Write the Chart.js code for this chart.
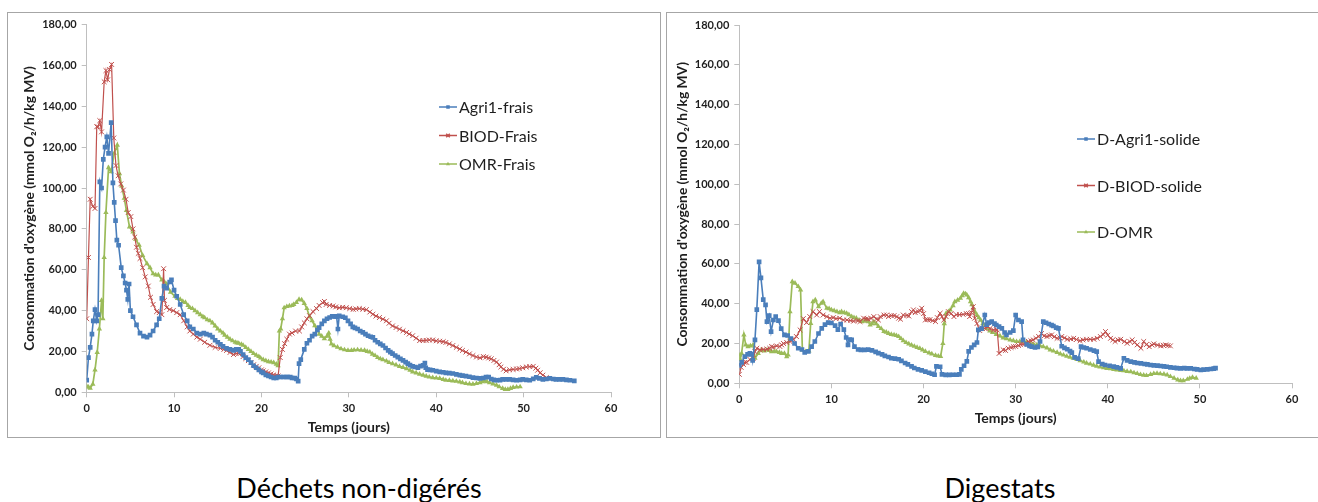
<!DOCTYPE html>
<html>
<head>
<meta charset="utf-8">
<script src="https://cdn.jsdelivr.net/npm/chart.js@4.4.1/dist/chart.umd.min.js"></script>
<style>
  html, body { margin: 0; padding: 0; background: #fff; }
  body { width: 1318px; height: 502px; position: relative; overflow: hidden; }
  .panel { position: absolute; box-sizing: border-box; border: 1px solid #a6a6a6; background: #fff; }
  .panel canvas { position: absolute; left: 0; top: 0; }
  .caption { position: absolute; font-family: Lato, "Open Sans", sans-serif; font-size: 27px; color: #000; white-space: nowrap; transform: translateX(-50%); }
</style>
</head>
<body>
<div class="panel" id="panelA" style="left:7px; top:12px; width:654px; height:426px;"><canvas id="chartA" width="652" height="424"></canvas></div>
<div class="panel" id="panelB" style="left:666px; top:12px; width:660px; height:426px;"><canvas id="chartB" width="652" height="424"></canvas></div>
<div class="caption" style="left:359px; top:471px;">Déchets non-digérés</div>
<div class="caption" style="left:1000px; top:471px;">Digestats</div>
<script>
// ---- Déchets non-digérés : temps (jours) / consommation O2 ----
const agriFraisT = [0,0.2,0.4,0.6,0.75,0.95,1.15,1.3,1.5,1.7,1.9,2.1,2.3,2.5,2.8,3.0,3.15,3.3,3.45,3.65,3.95,4.2,4.4,4.55,4.7,4.85,5.0,5.3,5.7,6.1,6.5,6.9,7.25,7.6,8.0,8.3,8.6,8.85,9.15,9.5,9.7,10.0,10.3,10.7,11.1,11.5,11.8,12.2,12.6,13.0,13.4,13.7,14.1,14.4,14.7,15.0,15.3,15.6,16.0,16.4,16.8,17.1,17.4,17.6,17.9,18.2,18.5,18.8,19.1,19.4,19.7,20.0,20.2,20.5,20.8,21.1,21.4,21.7,21.9,22.2,22.5,22.8,23.0,23.3,23.5,23.8,24.0,24.2,24.3,24.5,24.9,25.2,25.5,25.8,26.1,26.4,26.6,26.9,27.2,27.5,27.8,28.1,28.4,28.6,28.75,28.9,29.3,29.6,29.9,30.2,30.45,30.7,31.0,31.3,31.6,31.9,32.2,32.5,32.75,33.0,33.3,33.6,33.9,34.2,34.5,34.75,35.0,35.3,35.6,35.9,36.2,36.5,36.75,37.0,37.3,37.6,37.9,38.2,38.5,38.7,38.8,39.0,39.3,39.6,40.0,40.4,40.8,41.1,41.5,41.9,42.3,42.7,43.0,43.4,43.8,44.2,44.6,45.0,45.4,45.7,46.0,46.3,46.6,46.9,47.3,47.6,48.0,48.4,48.8,49.2,49.6,49.9,50.3,50.7,51.1,51.45,51.8,52.2,52.6,53.0,53.4,53.7,54.1,54.5,54.9,55.3,55.8];
const agriFraisV = [6,17,22,28.5,35,40.5,35,38,103,100,114,120,125,117,132,102.5,93,84,74.5,72,61,57,53.5,50,45.5,53,40,37,33,29,27.5,27,28,30,33,36,46,52,51,54,55,50,47,43,38,35,32,31,29,28.5,29,28.5,28,27,25.5,24.5,23.5,22.5,21.5,21,20.5,21,21,20,18.5,17,16,14.5,13,12,11,10,9.5,8.5,8,7.5,7,7,7.5,7.5,7.5,7.5,7.5,7.5,7,7,6.5,5.5,14,16,21,24,25.5,27.5,28.5,30.5,31.7,33.5,35,36,36.6,37.2,37.2,37,31,37.4,37,36.5,35,33.5,32,31.5,31,30,29.3,28.5,27.7,27.2,26.9,25.5,24.5,23.7,22.9,21.7,20.5,19.7,18.9,18,17.2,16.4,15.6,14.8,14,13.3,12.7,12.4,12.1,12.8,13.2,14.3,12,11.1,11,10.8,10.4,10,9.8,9.5,9.4,9.2,8.8,8.4,8.2,7.9,7.6,7.2,7,6.8,7,7.4,7.5,6.5,6.1,5.9,6,6.3,6.3,6.3,6.1,5.9,6.1,6.3,6.1,5.9,6.6,7.3,6.8,6.3,6.5,6.8,6.5,6.3,6.3,6.3,6.1,5.9,5.6];

const biodFraisT = [0,0.2,0.4,0.7,0.95,1.15,1.3,1.5,1.7,2.0,2.2,2.4,2.6,2.85,3.1,3.35,3.6,3.9,4.2,4.5,4.75,5.05,5.3,5.5,5.7,5.9,6.1,6.4,6.7,7.05,7.3,7.6,8.0,8.3,8.6,8.8,8.9,9.15,9.5,9.9,10.3,10.7,11.1,11.5,11.8,12.2,12.6,13.0,13.5,14.1,14.7,15.3,15.7,16.0,16.4,16.8,17.1,17.4,17.9,18.2,18.5,18.8,19.1,19.4,19.7,20.0,20.2,20.5,20.8,21.1,21.4,21.7,21.9,22.15,22.4,22.65,22.9,23.2,23.5,23.9,24.35,24.6,24.9,25.2,25.5,25.9,26.3,26.6,27.0,27.2,27.4,27.8,28.2,28.5,28.9,29.3,29.7,30.1,30.5,30.8,31.2,31.6,32.0,32.4,32.75,33.1,33.5,33.9,34.3,34.6,35.0,35.4,35.8,36.2,36.6,36.9,37.3,37.7,38.1,38.5,38.85,39.2,39.6,40.0,40.4,40.8,41.1,41.5,41.9,42.3,42.7,43.0,43.4,43.8,44.2,44.6,45.0,45.4,45.7,46.0,46.3,46.6,46.9,47.2,47.4,47.7,48.0,48.4,48.8,49.2,49.5,49.9,50.3,50.7,51.1,51.4,51.6,51.9,52.2,52.6];
const biodFraisV = [36,66,94.5,91,90,130,130,133,127.5,152,157.5,153,158,160.5,124.5,111,106,102,99,94.5,88,86,80,76,71,68,65.5,61,56.5,52,46.5,43,39.5,39,38,60.5,45,41.5,40.5,40,39,38,35,32,30,28.5,27,26,24.5,23,22,21.5,21,20.5,19.5,18.5,19,19,17.5,16.5,15.5,14.5,13.5,12.7,12,11,10.5,10,9.5,9,8.5,8.2,8,17,21,23.8,26,28.5,29,30,30,32,34,36,37.5,39.5,41,42.5,43.9,44.5,43,42.5,42.2,41.8,41.4,41.6,41.4,41,40.6,40.8,41,40.7,40.5,39.3,38.2,37.3,36.6,35.8,35,33.8,32.5,31.7,30.9,30.1,29.3,28.5,27.7,26.5,25.3,25.3,25.4,25.6,25.6,25.2,25,24.8,24.4,23.7,22.9,22,21.2,20.5,19.7,18.8,18,17.3,16.9,17.5,17.2,16.8,16.4,15.6,14.8,13.5,12.4,11.3,10.5,11,11.2,11.4,11.6,12,12.4,12.6,12.7,11.8,10.8,9.6,8.4,7.2];

const omrFraisT = [0,0.2,0.4,0.7,0.95,1.2,1.45,1.7,1.85,2.0,2.2,2.5,2.8,3.15,3.5,3.75,4.0,4.3,4.55,4.9,5.3,5.6,6.0,6.4,6.9,7.25,7.6,7.9,8.2,8.6,8.9,9.15,9.6,10.1,10.4,10.7,11.0,11.3,11.6,11.8,12.1,12.4,12.7,13.0,13.3,13.5,13.8,14.1,14.4,14.7,15.0,15.3,15.6,15.8,16.1,16.4,16.7,17.0,17.2,17.4,17.7,17.9,18.2,18.5,18.8,19.1,19.4,19.7,19.9,20.2,20.5,20.8,21.1,21.4,21.7,21.9,22.05,22.2,22.4,22.6,22.9,23.2,23.5,23.7,24.0,24.3,24.6,24.9,25.2,25.5,25.8,26.1,26.4,26.6,26.9,27.2,27.5,27.7,27.85,28.0,28.3,28.7,29.1,29.5,29.9,30.3,30.6,31.0,31.4,31.8,32.1,32.4,32.7,33.0,33.3,33.6,33.9,34.3,34.6,35.0,35.4,35.8,36.2,36.6,37.0,37.3,37.7,38.1,38.5,38.85,39.2,39.6,40.0,40.4,40.8,41.1,41.5,41.9,42.3,42.7,43.0,43.4,43.8,44.2,44.6,45.0,45.3,45.5,45.8,46.1,46.5,46.9,47.2,47.6,47.9,48.2,48.5,48.8,49.2,49.6];
const omrFraisV = [3,2.5,2,4,11,19.5,31,45,36,66,88,110,108,117,121,107,101,95,89,81,78.5,75,72,67,63,61,58,57.5,57.5,55,54,53,49,47,46,45.5,44.5,44,42.5,41.5,41,40,39,38,37,36.5,35.5,35,34,32.5,31,30,29,28,27,26,25.2,24.5,24.2,24,23.5,23,22,21,20,19,18.2,17.5,16.8,16,15.5,15,14.8,14.5,13.8,13,30,31,36,41.4,42,42.3,42.5,43,44,45.5,45.2,43.5,41,37,35,32.6,30.5,28.5,27.5,26.2,27.5,29,26,23.7,22.8,22.1,21.3,20.8,20.5,20.5,20.7,20.8,20.6,20.5,20,19.7,18.7,18,17,16.4,16,15.3,14.6,14,13.4,12.7,12.2,11.6,10.8,10,9.5,8.9,8.4,7.9,7.5,7.2,7,6.8,6.3,5.9,5.8,5.6,5.4,5.1,4.7,4.3,4.1,4,4.3,4.7,5.2,5.6,5.2,4.7,4.1,3.5,2.7,1.9,1.4,1.4,1.9,2.4,2.6,2.7];

// ---- Digestats ----
const dAgriT = [0,0.25,0.6,0.9,1.15,1.35,1.45,1.7,1.9,2.15,2.35,2.6,2.85,3.0,3.25,3.45,3.7,3.95,4.25,4.55,4.9,5.25,5.6,6.0,6.4,6.8,7.1,7.5,7.85,8.2,8.6,8.95,9.3,9.65,10.0,10.4,10.7,11.0,11.35,11.6,11.8,12.0,12.2,12.5,12.9,13.2,13.6,14.0,14.4,14.8,15.1,15.5,15.8,16.2,16.5,16.9,17.3,17.6,18.0,18.3,18.7,19.0,19.4,19.8,20.2,20.6,20.9,21.2,21.4,21.8,22.0,22.4,22.8,23.2,23.6,23.9,24.1,24.4,24.7,24.9,25.2,25.5,25.8,25.95,26.3,26.65,26.85,27.1,27.4,27.7,27.9,28.2,28.5,28.8,29.0,29.4,29.75,30.0,30.3,30.65,30.8,31.2,31.5,31.75,32.1,32.4,32.65,33.0,33.3,33.6,33.9,34.1,34.4,34.65,35.0,35.3,35.6,35.9,36.1,36.4,36.8,37.1,37.4,37.7,38.1,38.5,38.8,39.0,39.4,39.7,40.2,40.65,41.0,41.4,41.75,42.1,42.5,42.9,43.2,43.6,44.0,44.3,44.65,45.0,45.4,45.75,46.1,46.4,46.8,47.2,47.5,47.9,48.3,48.6,49.0,49.4,49.7,50.1,50.4,50.8,51.2,51.5,51.7];
const dAgriV = [9,10.5,13.4,14.5,15,14.5,11.5,21.8,37,61,53,42,39.4,31,34,26,31.8,33.5,31.5,27.5,24.3,24,22.5,20,17.6,17,15.5,16,18.4,21,25,27.6,29.5,30.5,30.3,29,27,29.8,27,23,19.3,22,21.8,18.4,17,16.8,16.8,16.9,16.5,15.8,15.2,14.5,13.8,13.2,12.6,12.4,12.1,11.3,10.2,9.5,8.5,7.7,7,6.5,5.9,5.3,4.8,4.3,8.5,8.3,4.5,4.2,4.2,4.3,4.3,4.5,7,8.8,11,16,18,19.3,20.5,26.8,27.5,34.3,29.5,30.5,31,30,29.3,28.5,27.6,25.5,24.3,25.5,26.5,34.3,31.8,31,21.8,19.5,18.8,18.4,18,18.3,21,31,30.4,29.8,29.2,28.8,28,27.6,18.6,17.8,17.1,16.2,15.4,13,12.4,18.4,18,17.6,17,16.4,15.9,10.9,9.7,9.2,8.8,8.4,8,7.5,12.6,11.5,10.9,10.5,10.2,10,9.7,9.5,9.2,9,8.9,8.7,8.5,8.3,8,7.8,7.6,7.5,7.6,7.5,7.5,7.2,7,6.7,6.9,7,7.2,7.4,7.6];

const dBiodT = [0,0.2,0.45,0.6,0.8,1.15,1.5,1.7,1.9,2.25,2.6,3.0,3.3,3.5,3.7,4.05,4.4,4.6,4.8,5.15,5.5,5.7,5.9,6.2,6.6,6.95,7.3,7.65,8.0,8.4,8.7,9.1,9.5,9.85,10.2,10.5,10.9,11.3,11.7,12.1,12.4,12.9,13.1,13.5,13.8,14.0,14.3,14.6,14.9,15.1,15.3,15.7,16.0,16.2,16.5,16.8,17.1,17.3,17.5,17.8,18.2,18.4,18.7,18.9,19.1,19.4,19.6,19.8,20.0,20.2,20.45,20.7,21.0,21.3,21.5,21.8,22.0,22.2,22.45,22.7,23.0,23.3,23.55,23.9,24.3,24.65,24.9,25.0,25.2,25.4,25.55,25.8,26.1,26.4,26.65,27.0,27.2,27.6,27.9,28.0,28.2,28.65,28.9,29.2,29.5,29.75,30.0,30.3,30.55,30.8,31.1,31.4,31.65,31.9,32.2,32.5,32.8,33.1,33.4,33.65,33.9,34.2,34.5,34.8,35.0,35.3,35.6,36.0,36.3,36.6,37.0,37.3,37.7,38.1,38.5,38.85,39.2,39.5,39.75,40.0,40.3,40.55,40.8,41.1,41.4,41.8,42.1,42.4,42.65,42.9,43.2,43.6,43.9,44.2,44.5,44.8,45.0,45.4,45.75,46.05,46.3,46.55,46.8];
const dBiodV = [4.5,8,9.5,10.5,10.5,12,12.5,15.9,17.6,16.8,17,17.2,17.6,18.4,18.2,18.8,18.5,19.3,20,20.5,21,21.8,22,23.5,26.8,32.5,30.5,33.5,36,34.3,36,34.3,33.5,32.7,33,32.5,32.7,31.8,31.8,31.5,31.2,31.5,31,32.7,32.4,32.2,32.6,33.5,32.3,31.8,33.5,34.3,34.3,33.5,34,34,33.5,32.7,32.2,34.3,34.1,33.8,36,36.9,35.5,36,36.5,37.7,35,31.8,32,32,31.5,31,33,35.2,33.5,31.8,33.5,36,35,33.5,34.5,34.5,34.6,35,35,33.5,35.5,38.5,32.7,30,26.5,27.5,27.6,28.5,27.5,26.8,27,26.8,15,16.8,16.5,17.6,18,18.4,18.5,19,19.5,19.6,20.2,21,21.4,21.8,22.6,23.5,25,23.8,23.5,24,24.3,23.4,22.6,22.8,23.5,22.8,22.1,22.3,22.6,22,21.4,21.8,22.1,22.1,22.1,22.6,23.5,24.5,26,24.2,22.6,21.8,21,21.8,22.1,21,20.1,21,21.8,20.5,19.3,17.6,21,19.5,18.4,19.3,19.8,19.2,18.8,19,19.3,19,18.8];

const dOmrT = [0,0.1,0.25,0.5,0.7,0.95,1.2,1.5,1.7,2.05,2.4,2.7,3.0,3.25,3.5,3.8,4.05,4.35,4.6,4.9,5.15,5.3,5.5,5.75,6.05,6.4,6.65,6.85,7.2,7.55,7.75,8.0,8.25,8.6,8.9,9.1,9.5,9.75,10.0,10.3,10.6,10.9,11.1,11.4,11.65,11.9,12.2,12.45,12.7,13.0,13.3,13.55,13.8,14.0,14.2,14.4,14.6,14.85,15.1,15.4,15.7,15.95,16.2,16.5,16.8,17.05,17.3,17.55,17.8,18.1,18.4,18.7,19.0,19.3,19.6,19.9,20.2,20.6,20.9,21.3,21.6,21.85,22.1,22.25,22.45,22.7,22.9,23.2,23.4,23.7,24.0,24.2,24.35,24.55,24.7,24.9,25.1,25.25,25.4,25.6,25.8,26.0,26.2,26.45,26.7,26.9,27.2,27.5,27.9,28.3,28.65,29.0,29.4,29.75,30.1,30.45,30.8,31.2,31.6,31.95,32.3,32.65,33.0,33.4,33.75,34.1,34.5,34.85,35.2,35.55,35.9,36.25,36.65,37.0,37.4,37.7,38.1,38.45,38.8,39.15,39.55,39.9,40.3,40.65,41.0,41.4,41.75,42.1,42.5,42.85,43.2,43.55,43.9,44.2,44.65,45.0,45.35,45.7,46.1,46.45,46.8,47.2,47.6,47.9,48.2,48.65,48.9,49.2,49.6];
const dOmrV = [14.2,12,15,24.3,19.3,18.4,18.8,19.3,12.6,15,16.8,16.2,16.8,16.5,15.9,16,15.9,15.5,15,15,13.4,14.2,36,51.1,50.3,48.6,46.9,16.8,15.9,16.2,30.1,41,41.9,38.5,40.2,41,37.7,37.5,36.9,36.5,36,35.5,36,35.5,35.2,34.5,33.5,33,32.7,31.8,31,31.2,31.8,31,29.3,30,31,30,28.5,27.5,26,25.7,25.1,24.6,24.3,24,23.5,22.5,21.4,20.5,19.8,19.2,18.6,18,17.5,16.8,16,15.3,14.8,14,13.7,13.5,20,30,35.2,36,36.8,39,41,41.8,42.7,44,45.2,45,44.4,43,41,39.5,37.7,35.8,34.3,33,31.8,30,29.3,27.6,26.3,25.5,24.6,23.8,22.8,22.4,21.8,21.4,21,21,20.9,20.8,20.1,19.6,19.3,18.8,18.4,17.8,16.8,16.2,15.5,14.8,14.2,13.6,13.1,12.6,12,11.4,10.7,10.1,9.7,9.1,8.6,8.2,7.8,7.5,7.3,7,6.7,6.5,6.3,6,5.8,5.3,4.9,4.4,4.1,3.9,4.5,4.9,5,4.8,4.6,4.2,3.4,2.6,1.7,1.3,1.3,2,2.5,3,2.6];

const seriesLabelsA = ['Agri1-frais', 'BIOD-Frais', 'OMR-Frais'];
const seriesLabelsB = ['D-Agri1-solide', 'D-BIOD-solide', 'D-OMR'];
const xTitle = 'Temps (jours)';
const yTitle = "Consommation d'oxygène (mmol O₂/h/kg MV)";

const BLUE = '#4a7ebb', RED = '#c0504d', GREEN = '#9bbb59';
const AXIS = '#bfbfbf', TEXT = '#1e1e1e';
const FONT = 'Lato, "Open Sans", sans-serif';

const toPoints = (t, v) => t.map((x, i) => ({ x, y: v[i] }));

function styleBlue(label, pts) {
  return { label, data: pts, borderColor: BLUE, backgroundColor: BLUE, borderWidth: 1.6,
    pointStyle: 'rect', pointRadius: 3.3, pointBorderWidth: 0, pointBackgroundColor: BLUE, tension: 0 };
}
function styleRed(label, pts) {
  return { label, data: pts, borderColor: RED, backgroundColor: RED, borderWidth: 1.2,
    pointStyle: 'crossRot', pointRadius: 3.4, pointBorderWidth: 1, pointBorderColor: RED, tension: 0 };
}
function styleGreen(label, pts) {
  return { label, data: pts, borderColor: GREEN, backgroundColor: GREEN, borderWidth: 1.7,
    pointStyle: 'triangle', pointRadius: 3.1, pointBorderWidth: 0, pointBackgroundColor: GREEN, tension: 0 };
}

// Vertical legend drawn inside the plot at a fixed spot
const boxLegend = {
  id: 'boxLegend',
  afterDraw(chart, args, opts) {
    const ctx = chart.ctx;
    ctx.save();
    chart.data.datasets.forEach((ds, i) => {
      const y = opts.y + i * opts.dy;
      ctx.strokeStyle = ds.borderColor;
      ctx.lineWidth = 1.5;
      ctx.beginPath();
      ctx.moveTo(opts.x, y);
      ctx.lineTo(opts.x + opts.len, y);
      ctx.stroke();
      ctx.fillStyle = ds.backgroundColor;
      ctx.strokeStyle = ds.borderColor;
      Chart.helpers.drawPoint(ctx, { pointStyle: ds.pointStyle, radius: ds.pointRadius * 0.75, rotation: 0, borderWidth: ds.pointBorderWidth }, opts.x + opts.len / 2, y);
      ctx.fillStyle = TEXT;
      ctx.font = opts.font;
      ctx.textBaseline = 'middle';
      ctx.textAlign = 'left';
      ctx.fillText(ds.label, opts.x + opts.len + 2, y + 1);
    });
    ctx.restore();
  }
};

const fmt = v => v.toFixed(2).replace('.', ',');

function makeChart(id, datasets, geo) {
  return new Chart(document.getElementById(id), {
    type: 'line',
    data: { datasets },
    plugins: [boxLegend],
    options: {
      responsive: false,
      animation: false,
      events: [],
      layout: { padding: { left: 0, top: geo.top, right: geo.right, bottom: 0 } },
      plugins: {
        legend: { display: false },
        tooltip: { enabled: false },
        boxLegend: geo.legend
      },
      scales: {
        x: {
          type: 'linear', min: 0, max: 60,
          ticks: { stepSize: 10, color: TEXT, padding: 5, font: { family: FONT, size: 11, weight: 'bold' } },
          grid: { display: true, drawOnChartArea: false, drawTicks: true, tickLength: 5, color: AXIS },
          border: { color: AXIS, width: 1 },
          title: { display: true, text: xTitle, color: TEXT, padding: { top: 0, bottom: geo.xTitlePad }, font: { family: FONT, size: 14, weight: 'bold' } },
          afterFit: s => { s.height = geo.xH; }
        },
        y: {
          min: 0, max: 180,
          ticks: { stepSize: 20, color: TEXT, padding: 5, callback: fmt, font: { family: FONT, size: 11, weight: 'bold' } },
          grid: { display: true, drawOnChartArea: false, drawTicks: true, tickLength: 5, color: AXIS },
          border: { color: AXIS, width: 1 },
          title: { display: true, text: yTitle, color: TEXT, padding: { top: geo.yTitlePad, bottom: 0 }, font: { family: FONT, size: 13.8, weight: 'bold' } },
          afterFit: s => { s.width = geo.yW; }
        }
      }
    }
  });
}

makeChart('chartA', [
  styleBlue(seriesLabelsA[0], toPoints(agriFraisT, agriFraisV)),
  styleRed(seriesLabelsA[1], toPoints(biodFraisT, biodFraisV)),
  styleGreen(seriesLabelsA[2], toPoints(omrFraisT, omrFraisV))
], { top: 7.5, right: 49, xH: 44.7, yW: 78.7, xTitlePad: 1.6, yTitlePad: 13.7,
     legend: { x: 431, y: 94, dy: 28.5, len: 18, font: '16px ' + FONT } });

makeChart('chartB', [
  styleBlue(seriesLabelsB[0], toPoints(dAgriT, dAgriV)),
  styleRed(seriesLabelsB[1], toPoints(dBiodT, dBiodV)),
  styleGreen(seriesLabelsB[2], toPoints(dOmrT, dOmrV))
], { top: 12, right: 27, xH: 53.7, yW: 72.3, xTitlePad: 10.1, yTitlePad: 7.7,
     legend: { x: 410, y: 126, dy: 46.5, len: 18, font: '16px ' + FONT } });
</script>
</body>
</html>
